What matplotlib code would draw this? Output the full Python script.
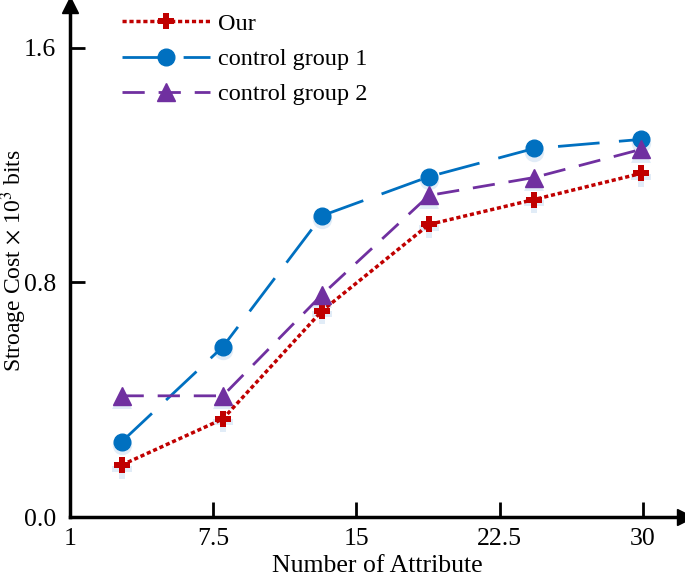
import numpy as np
import matplotlib.pyplot as plt
from matplotlib.transforms import ScaledTranslation

plt.rcParams['font.family'] = ['Liberation Serif', 'DejaVu Serif']
plt.rcParams['mathtext.fontset'] = 'stix'

# data
x = [2.7, 8.0, 13.2, 18.8, 24.3, 29.9]
our = [0.177, 0.334, 0.703, 0.997, 1.082, 1.171]
group1 = [0.256, 0.580, 1.027, 1.160, 1.256, 1.287]
group2 = [0.413, 0.413, 0.758, 1.096, 1.157, 1.253]
xticks = [0, 7.5, 15, 22.5, 30]
xticklabels = ['1', '7.5', '15', '22.5', '30']
yticks = [0.0, 0.8, 1.6]
yticklabels = ['0.0', '0.8', '1.6']


def draw_chart():
    fig = plt.figure(figsize=(6.85, 5.77), dpi=100)
    ax = fig.add_axes([70 / 685, 60 / 577, 615 / 685, 512 / 577])

    # soft glow under the markers
    shift = ax.transData + ScaledTranslation(0, -2.5 / 72, fig.dpi_scale_trans)
    for ys, m, ms in [(our, 'P', 14), (group1, 'o', 14), (group2, '^', 15)]:
        ax.plot(x, ys, ls='none', marker=m, markersize=ms, color='#BDD7EE',
                alpha=0.45, markeredgewidth=0, transform=shift, zorder=1)

    ax.plot(x, our, color='#C00000', lw=2.5, linestyle=(0, (1.2, 0.8)),
            marker='P', markersize=12, markeredgewidth=0, label='Our')
    ax.plot(x, group1, color='#0070C0', lw=2, linestyle=(0, (15, 7)),
            marker='o', markersize=12, label='control group 1')
    ax.plot(x, group2, color='#7030A0', lw=2, linestyle=(0, (8, 5)),
            marker='^', markersize=13, label='control group 2')

    ax.set_xlim(0, 32.2)
    ax.set_ylim(0, 1.745)
    ax.set_xticks(xticks)
    ax.set_xticklabels(xticklabels)
    ax.set_yticks(yticks)
    ax.set_yticklabels(yticklabels)
    ax.tick_params(direction='in', length=11, width=2, labelsize=18.5)
    ax.tick_params(axis='x', pad=8)
    ax.tick_params(axis='y', pad=10)

    for s in ['top', 'right']:
        ax.spines[s].set_visible(False)
    for s in ['left', 'bottom']:
        ax.spines[s].set_linewidth(2.5)
    ax.plot(1, 0, '>k', markersize=12, transform=ax.transAxes, clip_on=False)
    ax.plot(0, 1, '^k', markersize=12, transform=ax.transAxes, clip_on=False)

    ax.set_xlabel('Number of Attribute', fontsize=18.5)
    ax.xaxis.set_label_coords(0.5, -0.075)
    ax.set_ylabel(r'Stroage Cost $\times$ 10$^3$ bits', fontsize=17)
    ax.yaxis.set_label_coords(-0.066, 0.5)

    ax.legend(loc='upper left', bbox_to_anchor=(0.085, 0.985), frameon=False,
              fontsize=17.5, handlelength=3.6, handletextpad=0.33,
              labelspacing=0.55, borderpad=0, borderaxespad=0)

    fig.savefig('out.png')


if __name__ == '__main__':
    draw_chart()
